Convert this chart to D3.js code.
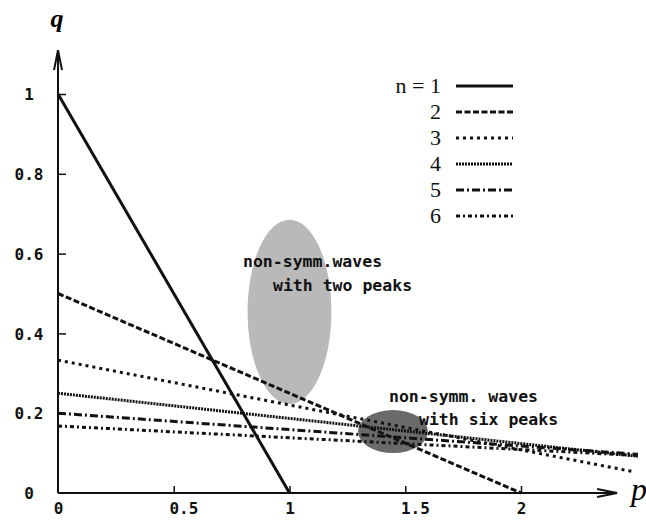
<!DOCTYPE html>
<html>
<head>
<meta charset="utf-8">
<script src="https://cdn.jsdelivr.net/npm/d3@7"></script>
<style>
  body { margin: 0; background: #fff; }
  .tick line { stroke: #111; stroke-width: 1.5px; }
  .tick text { font-family: "DejaVu Sans Mono", monospace; font-size: 16px; font-weight: bold; fill: #111; }
  .note { font-family: "DejaVu Sans Mono", monospace; font-size: 16.5px; font-weight: bold; fill: #111; }
  .legend text { font-family: "Liberation Serif", serif; font-size: 22px; fill: #111; }
</style>
</head>
<body>
<div id="chart"></div>
<script>
// data
var seriesNames = ["n = 1", "2", "3", "4", "5", "6"];
var pStart = [0, 0, 0, 0, 0, 0];
var qStart = [1, 0.5, 0.333, 0.25, 0.2, 0.168];
var pEnd = [1, 2, 2.49, 2.505, 2.505, 2.505];
var qEnd = [0, 0, 0.053, 0.092, 0.097, 0.094];
var dashes = ["none", "6,2.5", "3,4", "2,1", "8,3,2,3", "4,3,2,3"];

var xTicks = [0, 0.5, 1, 1.5, 2];
var xTickLabels = ["0", "0.5", "1", "1.5", "2"];
var yTicks = [0, 0.2, 0.4, 0.6, 0.8, 1];
var yTickLabels = ["0", "0.2", "0.4", "0.6", "0.8", "1"];

// shaded regions: centre (p, q) and radii
var regionNames = ["two peaks", "six peaks"];
var regionP = [1.0, 1.447];
var regionQ = [0.454, 0.154];
var regionRp = [0.181, 0.151];
var regionRq = [0.231, 0.054];
var regionFill = ["#b9b9b9", "#6a6a6a"];

var svgWidth = 646;
var svgHeight = 520;

var svg = d3.select("#chart")
  .append("svg")
  .attr("width", svgWidth)
  .attr("height", svgHeight);

// scales
var x = d3.scaleLinear().domain([0, 1]).range([58, 289.5]);
var y = d3.scaleLinear().domain([0, 1]).range([493, 94]);

var pAxisEnd = 2.415;
var qAxisEnd = 1.11;

// shaded ellipses (behind everything)
svg.selectAll("ellipse")
  .data(regionNames)
  .enter()
  .append("ellipse")
  .attr("cx", (d, i) => x(regionP[i]))
  .attr("cy", (d, i) => y(regionQ[i]))
  .attr("rx", (d, i) => x(regionRp[i]) - x(0))
  .attr("ry", (d, i) => y(0) - y(regionRq[i]))
  .attr("fill", (d, i) => regionFill[i]);

// axes
var charW = 16 * 0.602;

var xAxis = d3.axisBottom(x)
  .tickValues(xTicks)
  .tickSizeInner(-7)
  .tickSizeOuter(0)
  .tickFormat((d, i) => xTickLabels[i]);

var gx = svg.append("g")
  .attr("transform", `translate(0, ${y(0)})`)
  .call(xAxis);
gx.select(".domain").remove();
gx.selectAll(".tick")
  .filter(d => d === 0)
  .select("line").remove();
gx.selectAll(".tick text")
  .attr("y", 21)
  .attr("dy", 0)
  .attr("x", -charW / 2)
  .attr("text-anchor", "start");

var yAxis = d3.axisLeft(y)
  .tickValues(yTicks)
  .tickSizeInner(-8)
  .tickSizeOuter(0)
  .tickFormat((d, i) => yTickLabels[i]);

var gy = svg.append("g")
  .attr("transform", `translate(${x(0)}, 0)`)
  .call(yAxis);
gy.select(".domain").remove();
gy.selectAll(".tick")
  .filter(d => d === 0)
  .select("line").remove();
gy.selectAll(".tick text")
  .attr("dy", "0.36em")
  .attr("x", 29 - x(0))
  .attr("text-anchor", "middle");

// axis lines with open arrow heads
var x0 = x(0), y0 = y(0), xTip = x(pAxisEnd), yTip = y(qAxisEnd);
svg.append("path")
  .attr("d", `M${x0},${y0}H${xTip}M${xTip - 20},${y0 - 4}L${xTip},${y0}L${xTip - 20},${y0 + 4}`)
  .attr("fill", "none")
  .attr("stroke", "#111")
  .attr("stroke-width", 2);
svg.append("path")
  .attr("d", `M${x0},${y0}V${yTip}M${x0 - 4},${yTip + 20}L${x0},${yTip}L${x0 + 4},${yTip + 20}`)
  .attr("fill", "none")
  .attr("stroke", "#111")
  .attr("stroke-width", 2);

svg.append("text")
  .attr("x", 57)
  .attr("y", 27)
  .attr("text-anchor", "middle")
  .style("font-family", "Liberation Serif, serif")
  .style("font-style", "italic")
  .style("font-weight", "bold")
  .style("font-size", "26px")
  .text("q");

svg.append("text")
  .attr("x", 631)
  .attr("y", 500)
  .style("font-family", "Liberation Serif, serif")
  .style("font-style", "italic")
  .style("font-size", "32px")
  .text("p");

// the six lines
svg.selectAll(".series")
  .data(seriesNames)
  .enter()
  .append("line")
  .attr("class", "series")
  .attr("x1", (d, i) => x(pStart[i]))
  .attr("y1", (d, i) => y(qStart[i]))
  .attr("x2", (d, i) => x(pEnd[i]))
  .attr("y2", (d, i) => y(qEnd[i]))
  .attr("stroke", "#111")
  .attr("stroke-width", 3)
  .attr("stroke-dasharray", (d, i) => dashes[i]);

// notes
var notes = [
  [243, 267, "non-symm.waves"],
  [273, 291, "with two peaks"],
  [389, 402, "non-symm. waves"],
  [419, 425, "with six peaks"]
];
svg.selectAll(".note")
  .data(notes)
  .enter()
  .append("text")
  .attr("class", "note")
  .attr("x", d => d[0])
  .attr("y", d => d[1])
  .text(d => d[2]);

// legend
var legend = svg.append("g").attr("class", "legend");
var rows = legend.selectAll("g")
  .data(seriesNames)
  .enter()
  .append("g")
  .attr("transform", (d, i) => `translate(0, ${93 + i * 26})`);

rows.append("text")
  .attr("x", 441)
  .attr("text-anchor", "end")
  .text(d => d);

rows.append("line")
  .attr("x1", 456)
  .attr("x2", 513)
  .attr("y1", -7)
  .attr("y2", -7)
  .attr("stroke", "#111")
  .attr("stroke-width", 3)
  .attr("stroke-dasharray", (d, i) => dashes[i]);
</script>
</body>
</html>
